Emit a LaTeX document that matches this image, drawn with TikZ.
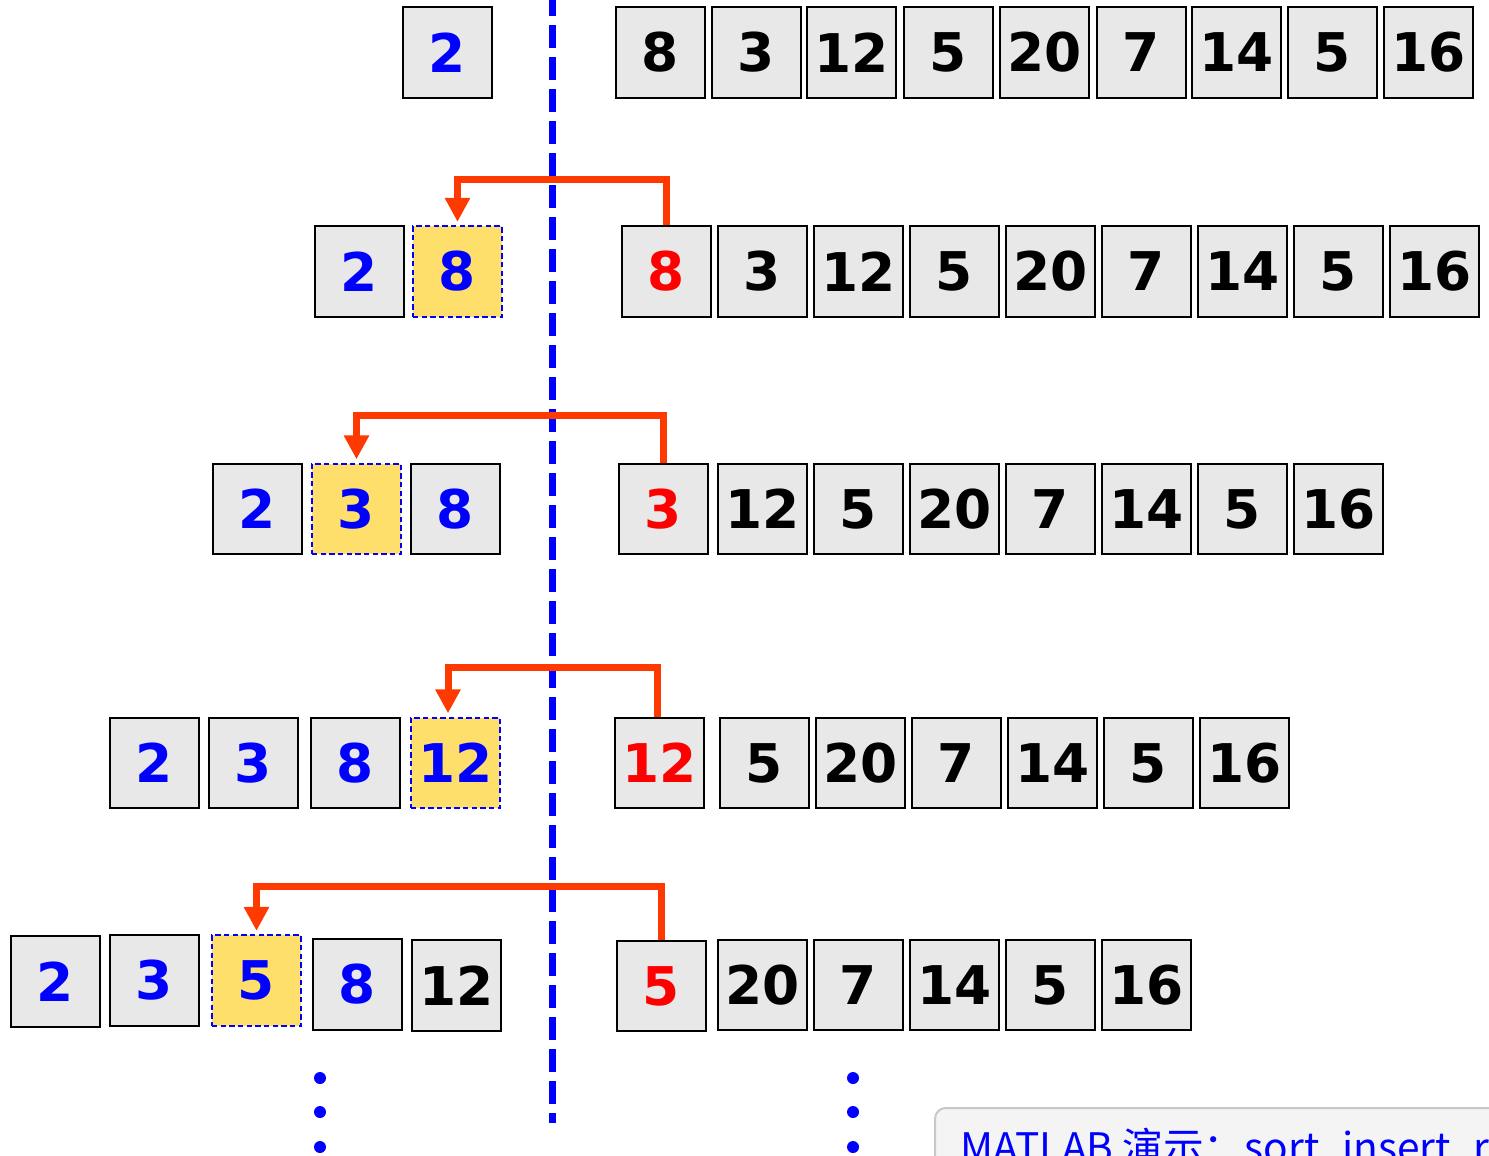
\documentclass[tikz,border=0pt]{standalone}
\usepackage{fontspec}
\newfontfamily\numfont{DejaVu Sans}
\newfontfamily\cjkfont{Noto Sans CJK SC}
\usetikzlibrary{arrows.meta,calc}
\definecolor{cellgray}{HTML}{E8E8E8}
\definecolor{cellyellow}{HTML}{FFDF6B}
\definecolor{arrowred}{RGB}{255,58,0}
\definecolor{txtblue}{RGB}{0,0,255}
\definecolor{txtred}{RGB}{255,0,0}
\definecolor{boxgray}{HTML}{F4F4F4}
\definecolor{boxline}{HTML}{C8C8C8}
\tikzset{
  cell/.style={draw=black, line width=1.5pt, fill=cellgray, minimum width=66.75pt,
    minimum height=68pt, inner sep=0pt, font=\numfont\bfseries\fontsize{40}{40}\selectfont},
  hot/.style={cell, draw=txtblue, dashed, dash pattern=on 4pt off 2.5pt, fill=cellyellow},
  bl/.style={text=txtblue},
  rd/.style={text=txtred},
  move/.style={draw=arrowred, line width=5.25pt, -{Triangle[length=18pt,width=18pt]}, shorten >=2.5pt},
  divider/.style={draw=txtblue, line width=5.25pt, dash pattern=on 17.25pt off 6.75pt},
  dotmark/.style={circle, fill=txtblue, inner sep=0pt, minimum size=9pt},
}
\begin{document}
\begin{tikzpicture}[x=0.75pt,y=-0.75pt]
\path[use as bounding box, clip] (0,0) rectangle (1489,1156);
\fill[white] (0,0) rectangle (1489,1156);

% divider
\coordinate (dtop) at (552,-7);
\coordinate (dbot) at (552,1123);
\draw[divider] (dtop) -- (dbot);

% Row 1
\node[cell,bl] (l1a) at (447.5,52.5) {2};
\foreach \x/\v/\n in {660.5/8/a,756.5/3/b,851.5/12/c,948.5/5/d,1044.5/20/e,1141.5/7/f,1236.5/14/g,1332.5/5/h,1428.5/16/i}
  \node[cell] (r1\n) at (\x,52.5) {\v};

% Row 2
\node[cell,bl] (l2a) at (359,271.5) {2};
\node[hot,bl] (l2b) at (457.5,271.5) {8};
\node[cell,rd] (r2a) at (666.5,271.5) {8};
\foreach \x/\v/\n in {762.5/3/b,858.5/12/c,954.5/5/d,1050.5/20/e,1146.5/7/f,1242.5/14/g,1338.5/5/h,1434.5/16/i}
  \node[cell] (r2\n) at (\x,271.5) {\v};

% Row 3
\node[cell,bl] (l3a) at (257.5,509) {2};
\node[hot,bl] (l3b) at (356.5,509) {3};
\node[cell,bl] (l3c) at (455.5,509) {8};
\node[cell,rd] (r3a) at (663.5,509) {3};
\foreach \x/\v/\n in {762.5/12/b,858.5/5/c,954.5/20/d,1050.5/7/e,1146.5/14/f,1242.5/5/g,1338.5/16/h}
  \node[cell] (r3\n) at (\x,509) {\v};

% Row 4
\node[cell,bl] (l4a) at (154.5,763) {2};
\node[cell,bl] (l4b) at (253.5,763) {3};
\node[cell,bl] (l4c) at (355.5,763) {8};
\node[hot,bl] (l4d) at (455.5,763) {12};
\node[cell,rd] (r4a) at (659.5,763) {12};
\foreach \x/\v/\n in {764.5/5/b,860.5/20/c,956.5/7/d,1052.5/14/e,1148.5/5/f,1244.5/16/g}
  \node[cell] (r4\n) at (\x,763) {\v};

% Row 5
\node[cell,bl] (l5a) at (55.5,981.5) {2};
\node[cell,bl] (l5b) at (154.5,980.5) {3};
\node[hot,bl] (l5c) at (256.5,980.5) {5};
\node[cell,bl] (l5d) at (357.5,984.5) {8};
\node[cell] (l5e) at (456.5,985.5) {12};
\node[cell,rd] (r5a) at (661.5,986) {5};
\foreach \x/\v/\n in {762.5/20/b,858.5/7/c,954.5/14/d,1050.5/5/e,1146.5/16/f}
  \node[cell] (r5\n) at (\x,985) {\v};

% arrows
\coordinate (t2) at (0,179);
\coordinate (t3) at (0,415);
\coordinate (t4) at (0,667);
\coordinate (t5) at (0,886);
\draw[move] (r2a.north) -- (r2a.north |- t2) -| (l2b.north);
\draw[move] (r3a.north) -- (r3a.north |- t3) -| (l3b.north);
\coordinate (s4) at ($(r4a.north)+(-2.5,0)$);
\coordinate (e4) at ($(l4d.north)+(-7.5,0)$);
\draw[move] (s4) -- (s4 |- t4) -| (e4);
\draw[move] (r5a.north) -- (r5a.north |- t5) -| (l5c.north);

% continuation dots
\foreach \y/\k in {1078/1,1112/2,1147/3} {
  \node[dotmark] (dl\k) at (320,\y) {};
  \node[dotmark] (dr\k) at (853,\y) {};
}

% MATLAB note
\draw[draw=boxline, line width=1.5pt, fill=boxgray, rounded corners=8pt] (935,1108) rectangle (1600,1220);
\node[anchor=base west, inner sep=0pt, text=txtblue, font=\cjkfont\fontsize{30.5}{32}\selectfont] (note) at (960,1162) {MATLAB 演示：sort\_insert\_r};
\end{tikzpicture}
\end{document}
